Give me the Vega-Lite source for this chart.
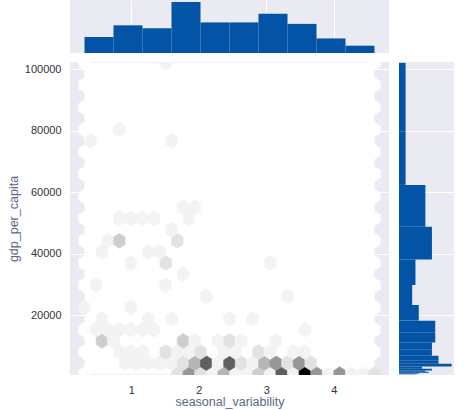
{
  "$schema": "https://vega.github.io/schema/vega-lite/v6.json",
  "padding": {"left": 7, "top": 0, "right": 0, "bottom": 4},
  "background": "white",
  "config": {
    "font": "Liberation Sans",
    "view": {"stroke": null},
    "axis": {
      "labelFont": "Liberation Sans", "titleFont": "Liberation Sans",
      "labelFontSize": 11, "labelColor": "#333333",
      "titleFontSize": 12.5, "titleFontWeight": "normal", "titleColor": "#5b6986",
      "ticks": false, "domain": false, "grid": true,
      "gridColor": "#ffffff", "gridWidth": 1, "gridOpacity": 1
    }
  },
  "columns": 2,
  "spacing": {"row": 9, "column": 10},
  "concat": [
    {
      "width": 319, "height": 53,
      "view": {"fill": "#EAEAF2", "stroke": null},
      "data": {"values": [
        {"x0": 0.305, "x1": 0.7346, "count": 11},
        {"x0": 0.7346, "x1": 1.1642, "count": 19},
        {"x0": 1.1642, "x1": 1.5938, "count": 17},
        {"x0": 1.5938, "x1": 2.0234, "count": 35},
        {"x0": 2.0234, "x1": 2.453, "count": 21},
        {"x0": 2.453, "x1": 2.8826, "count": 21},
        {"x0": 2.8826, "x1": 3.3122, "count": 27},
        {"x0": 3.3122, "x1": 3.7418, "count": 20},
        {"x0": 3.7418, "x1": 4.1714, "count": 10},
        {"x0": 4.1714, "x1": 4.601, "count": 5}
      ]},
      "mark": {"type": "rect", "color": "#0354a6"},
      "encoding": {
        "x": {"field": "x0", "type": "quantitative", "scale": {"domain": [0.09, 4.816], "nice": false, "zero": false}, "axis": {"values": [1, 2, 3, 4], "labels": false, "title": null, "grid": true}},
        "x2": {"field": "x1"},
        "y": {"field": "count", "type": "quantitative", "scale": {"domain": [0, 36.4], "nice": false}, "axis": null},
        "y2": {"datum": 0}
      }
    },
    {
      "width": 55, "height": 53,
      "view": {"fill": null, "stroke": null},
      "data": {"values": []},
      "mark": "point",
      "encoding": {}
    },
    {
      "width": 319, "height": 313,
      "view": {"fill": "#EAEAF2", "stroke": null},
      "layer": [
        {
          "data": {"values": [{}]},
          "mark": {"type": "rect", "color": "#ffffff"},
          "encoding": {
            "x": {"datum": 0.305, "type": "quantitative", "scale": {"domain": [0.09, 4.816], "nice": false, "zero": false}, "axis": {"values": [1, 2, 3, 4], "title": "seasonal_variability", "labelPadding": 9, "titlePadding": 0}},
            "x2": {"datum": 4.601},
            "y": {"datum": 740, "type": "quantitative", "scale": {"domain": [500, 102400], "nice": false, "zero": false}, "axis": {"values": [20000, 40000, 60000, 80000, 100000], "format": "d", "title": "gdp_per_capita", "labelPadding": 9, "titlePadding": 4}},
            "y2": {"datum": 102120}
          }
        },
        {
          "data": {"values": [
            {"x": 0.305, "y": 740, "n": 0}, {"x": 1.680, "y": 740, "n": 2}, {"x": 1.852, "y": 740, "n": 5}, {"x": 2.023, "y": 740, "n": 2}, {"x": 2.195, "y": 740, "n": 1}, {"x": 2.367, "y": 740, "n": 4}, {"x": 2.539, "y": 740, "n": 1}, {"x": 2.711, "y": 740, "n": 1}, {"x": 2.883, "y": 740, "n": 3}, {"x": 3.054, "y": 740, "n": 1}, {"x": 3.226, "y": 740, "n": 7}, {"x": 3.398, "y": 740, "n": 1}, {"x": 3.570, "y": 740, "n": 10}, {"x": 3.742, "y": 740, "n": 5}, {"x": 3.914, "y": 740, "n": 1}, {"x": 4.085, "y": 740, "n": 5}, {"x": 4.257, "y": 740, "n": 1}, {"x": 4.429, "y": 740, "n": 1}, {"x": 4.601, "y": 740, "n": 2},
            {"x": 0.907, "y": 4361, "n": 1}, {"x": 1.078, "y": 4361, "n": 1}, {"x": 1.250, "y": 4361, "n": 1}, {"x": 1.422, "y": 4361, "n": 1}, {"x": 1.594, "y": 4361, "n": 1}, {"x": 1.766, "y": 4361, "n": 2}, {"x": 1.938, "y": 4361, "n": 4}, {"x": 2.109, "y": 4361, "n": 7}, {"x": 2.281, "y": 4361, "n": 1}, {"x": 2.453, "y": 4361, "n": 7}, {"x": 2.625, "y": 4361, "n": 2}, {"x": 2.797, "y": 4361, "n": 1}, {"x": 2.969, "y": 4361, "n": 4}, {"x": 3.140, "y": 4361, "n": 5}, {"x": 3.312, "y": 4361, "n": 2}, {"x": 3.484, "y": 4361, "n": 5}, {"x": 3.656, "y": 4361, "n": 2},
            {"x": 0.305, "y": 7981, "n": 0}, {"x": 0.821, "y": 7981, "n": 1}, {"x": 0.992, "y": 7981, "n": 1}, {"x": 1.164, "y": 7981, "n": 1}, {"x": 1.508, "y": 7981, "n": 2}, {"x": 1.680, "y": 7981, "n": 1}, {"x": 1.852, "y": 7981, "n": 1}, {"x": 2.023, "y": 7981, "n": 2}, {"x": 2.367, "y": 7981, "n": 1}, {"x": 2.539, "y": 7981, "n": 1}, {"x": 2.883, "y": 7981, "n": 2}, {"x": 3.054, "y": 7981, "n": 1}, {"x": 3.398, "y": 7981, "n": 1}, {"x": 3.570, "y": 7981, "n": 1}, {"x": 4.601, "y": 7981, "n": 0},
            {"x": 0.563, "y": 11602, "n": 3}, {"x": 0.735, "y": 11602, "n": 1}, {"x": 1.766, "y": 11602, "n": 3}, {"x": 1.938, "y": 11602, "n": 1}, {"x": 2.281, "y": 11602, "n": 1}, {"x": 2.453, "y": 11602, "n": 2}, {"x": 2.625, "y": 11602, "n": 1}, {"x": 3.140, "y": 11602, "n": 1},
            {"x": 0.305, "y": 15223, "n": 0}, {"x": 0.477, "y": 15223, "n": 1}, {"x": 0.649, "y": 15223, "n": 1}, {"x": 0.821, "y": 15223, "n": 1}, {"x": 0.992, "y": 15223, "n": 1}, {"x": 1.164, "y": 15223, "n": 1}, {"x": 1.336, "y": 15223, "n": 1}, {"x": 3.570, "y": 15223, "n": 1}, {"x": 4.601, "y": 15223, "n": 0},
            {"x": 0.563, "y": 18844, "n": 1}, {"x": 1.250, "y": 18844, "n": 1}, {"x": 1.594, "y": 18844, "n": 1}, {"x": 2.453, "y": 18844, "n": 1}, {"x": 2.797, "y": 18844, "n": 1},
            {"x": 0.305, "y": 22464, "n": 1}, {"x": 0.992, "y": 22464, "n": 1}, {"x": 4.601, "y": 22464, "n": 0},
            {"x": 2.109, "y": 26085, "n": 1}, {"x": 3.312, "y": 26085, "n": 1},
            {"x": 0.305, "y": 29706, "n": 0}, {"x": 0.477, "y": 29706, "n": 1}, {"x": 1.508, "y": 29706, "n": 1}, {"x": 4.601, "y": 29706, "n": 0},
            {"x": 1.766, "y": 33326, "n": 1},
            {"x": 0.305, "y": 36947, "n": 0}, {"x": 0.992, "y": 36947, "n": 1}, {"x": 1.508, "y": 36947, "n": 2}, {"x": 3.054, "y": 36947, "n": 1}, {"x": 4.601, "y": 36947, "n": 0},
            {"x": 0.563, "y": 40568, "n": 1}, {"x": 1.250, "y": 40568, "n": 1}, {"x": 1.422, "y": 40568, "n": 1},
            {"x": 0.305, "y": 44188, "n": 0}, {"x": 0.649, "y": 44188, "n": 1}, {"x": 0.821, "y": 44188, "n": 3}, {"x": 1.680, "y": 44188, "n": 2}, {"x": 4.601, "y": 44188, "n": 0},
            {"x": 1.594, "y": 47809, "n": 1},
            {"x": 0.305, "y": 51430, "n": 0}, {"x": 0.821, "y": 51430, "n": 1}, {"x": 0.992, "y": 51430, "n": 1}, {"x": 1.164, "y": 51430, "n": 1}, {"x": 1.336, "y": 51430, "n": 1}, {"x": 1.852, "y": 51430, "n": 1}, {"x": 4.601, "y": 51430, "n": 0},
            {"x": 1.766, "y": 55051, "n": 1}, {"x": 1.938, "y": 55051, "n": 1},
            {"x": 0.305, "y": 58672, "n": 0}, {"x": 4.601, "y": 58672, "n": 0},
            {"x": 0.305, "y": 65913, "n": 0}, {"x": 4.601, "y": 65913, "n": 0},
            {"x": 0.305, "y": 73154, "n": 0}, {"x": 4.601, "y": 73154, "n": 0},
            {"x": 0.391, "y": 76774, "n": 1}, {"x": 1.594, "y": 76774, "n": 1},
            {"x": 0.305, "y": 80395, "n": 0}, {"x": 0.821, "y": 80395, "n": 1}, {"x": 4.601, "y": 80395, "n": 0},
            {"x": 0.305, "y": 87637, "n": 0}, {"x": 4.601, "y": 87637, "n": 0},
            {"x": 0.305, "y": 94878, "n": 0}, {"x": 4.601, "y": 94878, "n": 0},
            {"x": 0.305, "y": 102120, "n": 0}, {"x": 1.508, "y": 102120, "n": 1}, {"x": 4.601, "y": 102120, "n": 0}
          ]},
          "mark": {"type": "point", "shape": "M0,-1L0.782,-0.5L0.782,0.5L0,1L-0.782,0.5L-0.782,-0.5Z", "filled": true, "size": 220, "opacity": 1, "strokeWidth": 0.6, "clip": true},
          "encoding": {
            "x": {"field": "x", "type": "quantitative", "axis": {"values": [1, 2, 3, 4], "title": "seasonal_variability", "labelPadding": 9, "titlePadding": 0}},
            "y": {"field": "y", "type": "quantitative", "axis": {"values": [20000, 40000, 60000, 80000, 100000], "format": "d", "title": "gdp_per_capita", "labelPadding": 9, "titlePadding": 4}},
            "fill": {"field": "n", "type": "quantitative", "scale": {"domain": [0, 1.25, 2.5, 3.75, 5, 6.25, 7.5, 8.75, 10], "range": ["#ffffff", "#f0f0f0", "#d9d9d9", "#bdbdbd", "#969696", "#737373", "#525252", "#252525", "#000000"]}, "legend": null},
            "stroke": {"field": "n", "type": "quantitative", "scale": {"domain": [0, 1.25, 2.5, 3.75, 5, 6.25, 7.5, 8.75, 10], "range": ["#ffffff", "#f0f0f0", "#d9d9d9", "#bdbdbd", "#969696", "#737373", "#525252", "#252525", "#000000"]}, "legend": null}
          }
        }
      ]
    },
    {
      "width": 55, "height": 313,
      "view": {"fill": "#EAEAF2", "stroke": null},
      "data": {"values": [
        {"y0": 740, "y1": 946, "count": 5},
        {"y0": 946, "y1": 1211, "count": 6},
        {"y0": 1211, "y1": 1549, "count": 9},
        {"y0": 1549, "y1": 1982, "count": 8},
        {"y0": 1982, "y1": 2536, "count": 10},
        {"y0": 2536, "y1": 3245, "count": 7},
        {"y0": 3245, "y1": 4150, "count": 16},
        {"y0": 4150, "y1": 5310, "count": 12},
        {"y0": 5310, "y1": 6794, "count": 12},
        {"y0": 6794, "y1": 8690, "count": 10},
        {"y0": 8690, "y1": 11120, "count": 10},
        {"y0": 11120, "y1": 14230, "count": 11},
        {"y0": 14230, "y1": 18200, "count": 11},
        {"y0": 18200, "y1": 23290, "count": 6},
        {"y0": 23290, "y1": 29800, "count": 4},
        {"y0": 29800, "y1": 38120, "count": 5},
        {"y0": 38120, "y1": 48770, "count": 10},
        {"y0": 48770, "y1": 62390, "count": 8},
        {"y0": 62390, "y1": 79690, "count": 2},
        {"y0": 79690, "y1": 102120, "count": 2}
      ]},
      "mark": {"type": "rect", "color": "#0354a6"},
      "encoding": {
        "y": {"field": "y0", "type": "quantitative", "scale": {"domain": [500, 102400], "nice": false, "zero": false}, "axis": {"values": [20000, 40000, 60000, 80000, 100000], "labels": false, "title": null, "grid": true}},
        "y2": {"field": "y1"},
        "x": {"field": "count", "type": "quantitative", "scale": {"domain": [0, 16.7], "nice": false}, "axis": null},
        "x2": {"datum": 0}
      }
    }
  ]
}
